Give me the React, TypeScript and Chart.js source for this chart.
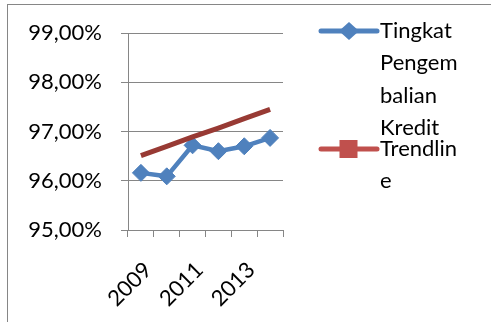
import React, { useEffect, useRef } from "react";
import { Chart, registerables } from "chart.js";

Chart.register(...registerables);

const categories = ["2009", "2010", "2011", "2012", "2013", "2014"];
const seriesName = "Tingkat Pengembalian Kredit";
const seriesValues = [96.16, 96.09, 96.72, 96.6, 96.7, 96.87];
const trendName = "Trendline";
const trendValues = [96.51, 96.7, 96.89, 97.07, 97.26, 97.45];
const legendLinesSeries = ["Tingkat", "Pengem", "balian", "Kredit"];
const legendLinesTrend = ["Trendlin", "e"];
const yMin = 95;
const yMax = 99;
const yStep = 1;

const FONT = "Lato";
const GRID = "#868686";
const BLUE = "#4F81BD";
const TREND = "#983A34";
const LEGEND_RED = "#C0504D";

export default function App() {
  const ref = useRef<HTMLCanvasElement | null>(null);

  useEffect(() => {
    if (!ref.current) return;

    const framePlugin = {
      id: "frame",
      beforeDraw(chart: any) {
        const ctx = chart.ctx;
        ctx.save();
        ctx.fillStyle = "#ffffff";
        ctx.fillRect(0, 0, chart.width, chart.height);
        ctx.strokeStyle = GRID;
        ctx.lineWidth = 1;
        ctx.strokeRect(7.5, 4.5, 520, 400);
        ctx.restore();
      },
    };

    const legendPlugin = {
      id: "customLegend",
      afterDraw(chart: any) {
        const ctx = chart.ctx;
        ctx.save();
        ctx.font = `22px ${FONT}`;
        ctx.fillStyle = "#000";
        ctx.textBaseline = "middle";
        ctx.textAlign = "left";
        const lineH = 32.3;
        const x0 = 321;
        const x1 = 377;
        const tx = 380;
        // series entry
        let y = 31;
        ctx.strokeStyle = BLUE;
        ctx.lineWidth = 5;
        ctx.lineCap = "round";
        ctx.beginPath();
        ctx.moveTo(x0, y);
        ctx.lineTo(x1, y);
        ctx.stroke();
        ctx.fillStyle = BLUE;
        ctx.beginPath();
        ctx.moveTo(349, y - 9);
        ctx.lineTo(359, y);
        ctx.lineTo(349, y + 9);
        ctx.lineTo(339, y);
        ctx.closePath();
        ctx.fill();
        ctx.fillStyle = "#000";
        legendLinesSeries.forEach((t, i) => ctx.fillText(t, tx, y + i * lineH));
        // trend entry
        y = 149;
        ctx.strokeStyle = LEGEND_RED;
        ctx.beginPath();
        ctx.moveTo(x0, y);
        ctx.lineTo(x1, y);
        ctx.stroke();
        ctx.fillStyle = LEGEND_RED;
        ctx.fillRect(339.5, y - 9, 18, 18);
        ctx.fillStyle = "#000";
        legendLinesTrend.forEach((t, i) => ctx.fillText(t, tx, y + i * lineH));
        ctx.restore();
      },
    };

    const chart = new Chart(ref.current, {
      type: "line",
      data: {
        labels: categories,
        datasets: [
          {
            label: trendName,
            data: trendValues,
            borderColor: TREND,
            backgroundColor: TREND,
            borderWidth: 5,
            pointRadius: 0,
            pointHoverRadius: 0,
            tension: 0,
          },
          {
            label: seriesName,
            data: seriesValues,
            borderColor: BLUE,
            backgroundColor: BLUE,
            borderWidth: 4.5,
            pointStyle: "rectRot",
            pointRadius: 8.5,
            pointBorderWidth: 1,
            pointBackgroundColor: BLUE,
            pointBorderColor: BLUE,
            tension: 0,
          },
        ],
      },
      options: {
        responsive: false,
        animation: false,
        events: [],
        layout: { padding: { top: 33, right: 208, left: 0, bottom: 0 } },
        plugins: {
          legend: { display: false },
          tooltip: { enabled: false },
        },
        scales: {
          x: {
            offset: true,
            grid: {
              display: true,
              offset: true,
              drawOnChartArea: false,
              drawTicks: true,
              tickLength: 7,
              color: GRID,
            },
            border: { display: true, color: GRID, width: 1 },
            ticks: {
              autoSkip: false,
              maxRotation: 45,
              minRotation: 45,
              padding: 20,
              labelOffset: 7,
              color: "#000",
              font: { family: FONT, size: 22 },
              callback: (_v: any, i: number) => (i % 2 === 0 ? categories[i] : ""),
            },
            afterFit: (s: any) => {
              s.height = 92;
            },
          },
          y: {
            min: yMin,
            max: yMax,
            grid: { color: GRID, tickLength: 7, lineWidth: 1 },
            border: { display: true, color: GRID, width: 1 },
            ticks: {
              stepSize: yStep,
              padding: 19,
              color: "#000",
              font: { family: FONT, size: 22 },
              callback: (v: any) => Number(v).toFixed(2).replace(".", ",") + "%",
            },
            afterFit: (s: any) => {
              s.width = 128;
            },
          },
        },
      },
      plugins: [framePlugin, legendPlugin],
    });
    return () => chart.destroy();
  }, []);

  return (
    <div style={{ position: "fixed", left: 0, top: 0, width: 491, height: 322, overflow: "hidden", background: "#fff" }}>
      <canvas ref={ref} width={491} height={322} style={{ display: "block", width: 491, height: 322 }} />
    </div>
  );
}
